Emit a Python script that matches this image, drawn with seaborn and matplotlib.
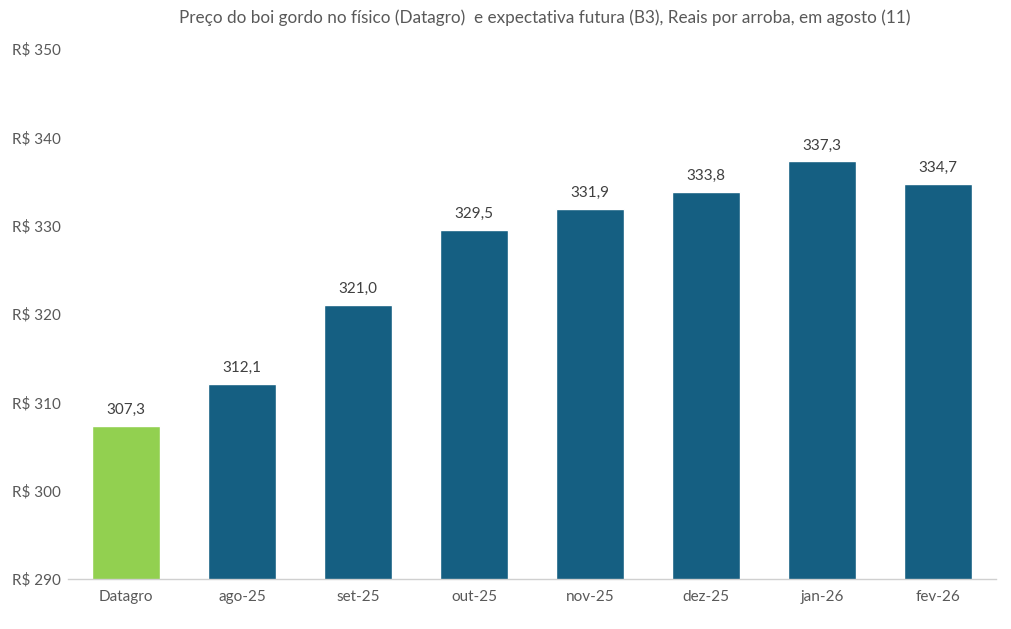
import matplotlib
matplotlib.use("Agg")
import matplotlib.pyplot as plt
import seaborn as sns
import pandas as pd
import numpy as np

# --- DATA ---
categories = ["Datagro", "ago-25", "set-25", "out-25", "nov-25", "dez-25", "jan-26", "fev-26"]
prices = [307.3, 312.1, 321.0, 329.5, 331.9, 333.8, 337.3, 334.7]
series = ["Físico", "Futuro", "Futuro", "Futuro", "Futuro", "Futuro", "Futuro", "Futuro"]
y_ticks = [290, 300, 310, 320, 330, 340, 350]

TITLE = "Preço do boi gordo no físico (Datagro)  e expectativa futura (B3), Reais por arroba, em agosto (11)"
COLORS = {"Físico": "#92D050", "Futuro": "#155F82"}

sns.set_theme(style="white")
plt.rcParams['font.family'] = ['Lato', 'DejaVu Sans']

df = pd.DataFrame({"cat": categories, "price": prices, "series": series})

fig = plt.figure(figsize=(10.11, 6.29), dpi=100)
ax = fig.add_axes([0.0673, 0.0795, 0.9177, 0.8425])

sns.barplot(data=df, x="cat", y="price", hue="series", palette=COLORS,
            dodge=False, width=0.59, legend=False, ax=ax, saturation=1)

ax.set_ylim(290, 350)
ax.set_xlim(-0.5, len(categories) - 0.5)
ax.set_yticks(y_ticks)
ax.set_yticklabels([f"R$ {v}" for v in y_ticks])
ax.set_xlabel("")
ax.set_ylabel("")

# value labels
for i, v in enumerate(prices):
    ax.text(i, v + 1.0, f"{v:.1f}".replace(".", ","), ha="center", va="bottom",
            fontsize=11, color="#404040")

for s in ["top", "right", "left"]:
    ax.spines[s].set_visible(False)
ax.spines["bottom"].set_color("#D0D0D0")
ax.spines["bottom"].set_linewidth(1.0)

ax.tick_params(axis="y", length=0, labelsize=11, labelcolor="#595959")
ax.tick_params(axis="x", which="major", length=0, labelsize=11, labelcolor="#595959", pad=8)
ax.set_xticks(np.arange(-0.5, len(categories), 1.0), minor=True)
ax.tick_params(axis="x", which="minor", length=5, color="#D0D0D0", width=1.0)
for lbl in ax.get_yticklabels():
    lbl.set_horizontalalignment("left")
# pad in points: label left edge at ~12 px from figure edge
ax.yaxis.set_tick_params(pad=40)

fig.text(0.539, 0.972, TITLE, ha="center", va="center", fontsize=12.3, color="#595959")

fig.savefig("out.png", dpi=100)
